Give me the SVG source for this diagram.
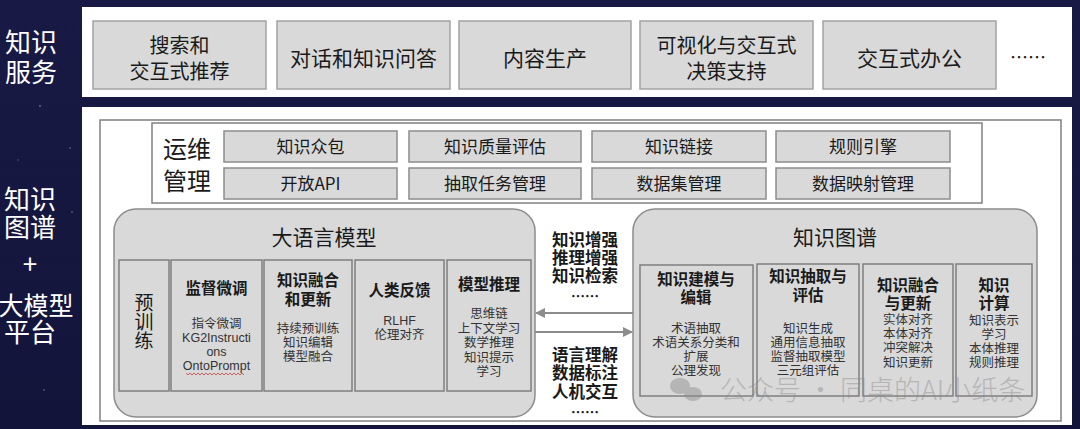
<svg xmlns="http://www.w3.org/2000/svg" width="1080" height="429" viewBox="0 0 1080 429">
<defs>
<style>
text{font-family:"Noto Sans CJK SC","Noto Sans",sans-serif;fill:#1a1a1a;text-anchor:middle}
.side{fill:#ffffff;font-size:26px}
.svc{fill:#d9d9d9;stroke:#a3a3a3;stroke-width:1.5}
.svct{font-size:20px}
.ops{fill:#d9d9d9;stroke:#8c8c8c;stroke-width:1.5}
.opst{font-size:17px}
.grp{fill:#d9d9d9;stroke:#8c8c8c;stroke-width:1.5}
.col{fill:#d9d9d9;stroke:#7f7f7f;stroke-width:1.5}
.h{font-weight:700;font-size:15.5px}
.s{font-size:12.5px;fill:#333333}
.mid{font-weight:700;font-size:16.5px}
.title{font-size:21px}
.conn{stroke:#8c8c8c;stroke-width:2;fill:none}
.star{fill:#ffffff;opacity:0.25}
</style>
<linearGradient id="bg" x1="0" y1="0" x2="0" y2="1">
<stop offset="0" stop-color="#181a45"/>
<stop offset="1" stop-color="#13143a"/>
</linearGradient>
<marker id="ah" viewBox="0 0 10 10" refX="9" refY="5" markerWidth="10" markerHeight="10" markerUnits="userSpaceOnUse" orient="auto-start-reverse">
<path d="M0,0 L10,5 L0,10 z" fill="#8c8c8c"/>
</marker>
</defs>

<rect x="0" y="0" width="1080" height="429" fill="url(#bg)"/>
<circle class="star" cx="40" cy="106" r="1.2"/>
<circle class="star" cx="70" cy="148" r="1"/>
<circle class="star" cx="44" cy="390" r="1"/>
<circle class="star" cx="18" cy="160" r="0.8"/>
<circle class="star" cx="72" cy="212" r="1"/>

<g id="side-labels">
<text class="side"><tspan x="31" y="52">知识</tspan><tspan x="31" y="82">服务</tspan></text>
<text class="side"><tspan x="30" y="209">知识</tspan><tspan x="30" y="237">图谱</tspan><tspan x="30" y="274">+</tspan><tspan x="36" y="315" style="font-size:25px">大模型</tspan><tspan x="30" y="342">平台</tspan></text>
</g>

<g id="service-panel">
<rect x="82" y="7" width="990" height="90" fill="#ffffff"/>
<g id="svc1"><rect class="svc" x="93" y="21" width="173" height="68"/><text class="svct"><tspan x="179.5" y="53">搜索和</tspan><tspan x="179.5" y="79">交互式推荐</tspan></text></g>
<g id="svc2"><rect class="svc" x="277" y="21" width="173" height="68"/><text class="svct" x="363.5" y="66" style="font-size:21px">对话和知识问答</text></g>
<g id="svc3"><rect class="svc" x="459" y="21" width="172" height="68"/><text class="svct" x="545" y="66" style="font-size:21px">内容生产</text></g>
<g id="svc4"><rect class="svc" x="640" y="21" width="173" height="68"/><text class="svct"><tspan x="726.5" y="53">可视化与交互式</tspan><tspan x="726.5" y="79">决策支持</tspan></text></g>
<g id="svc5"><rect class="svc" x="823" y="21" width="173" height="68"/><text class="svct" x="909.5" y="66" style="font-size:21px">交互式办公</text></g>
<text x="1028" y="64" style="font-size:18px">……</text>
</g>

<g id="platform-panel">
<rect x="82" y="107" width="990" height="318" fill="#ffffff"/>
<rect x="100" y="120" width="961" height="301" fill="none" stroke="#808080" stroke-width="1.5"/>
</g>

<g id="ops">
<rect x="152" y="123" width="830" height="80" fill="#ffffff" stroke="#808080" stroke-width="1.5"/>
<text style="font-size:24px"><tspan x="187" y="158">运维</tspan><tspan x="187" y="190">管理</tspan></text>
<g id="ops1"><rect class="ops" x="224" y="131" width="173" height="31"/><text class="opst" x="310.5" y="153">知识众包</text></g>
<g id="ops2"><rect class="ops" x="409" y="131" width="172" height="31"/><text class="opst" x="495" y="153">知识质量评估</text></g>
<g id="ops3"><rect class="ops" x="592" y="131" width="174" height="31"/><text class="opst" x="679" y="153">知识链接</text></g>
<g id="ops4"><rect class="ops" x="776" y="131" width="174" height="31"/><text class="opst" x="863" y="153">规则引擎</text></g>
<g id="ops5"><rect class="ops" x="224" y="168" width="173" height="31"/><text class="opst" x="310.5" y="190">开放API</text></g>
<g id="ops6"><rect class="ops" x="409" y="168" width="172" height="31"/><text class="opst" x="495" y="190">抽取任务管理</text></g>
<g id="ops7"><rect class="ops" x="592" y="168" width="174" height="31"/><text class="opst" x="679" y="190">数据集管理</text></g>
<g id="ops8"><rect class="ops" x="776" y="168" width="174" height="31"/><text class="opst" x="863" y="190">数据映射管理</text></g>
</g>

<g id="llm">
<rect class="grp" x="114" y="209" width="421" height="208" rx="22"/>
<text class="title" x="324" y="245">大语言模型</text>
<g id="llm-pretrain"><rect class="col" x="119" y="260" width="50" height="131"/>
<text x="144" y="293" writing-mode="vertical-rl" style="font-size:19px;text-anchor:start">预训练</text></g>
<g id="llm-sft"><rect class="col" x="171" y="260" width="91" height="131"/>
<text class="h" x="216.5" y="294">监督微调</text>
<text class="s"><tspan x="216.5" y="328">指令微调</tspan><tspan x="216.5" y="342" style="font-family:'Liberation Sans',sans-serif">KG2Instructi</tspan><tspan x="216.5" y="356" style="font-family:'Liberation Sans',sans-serif">ons</tspan><tspan x="216.5" y="370" style="font-family:'Liberation Sans',sans-serif">OntoPrompt</tspan></text>
<path d="M186,373 l2,2 l2,-2 l2,2 l2,-2 l2,2 l2,-2 l2,2 l2,-2 l2,2 l2,-2 l2,2 l2,-2 l2,2 l2,-2 l2,2 l2,-2 l2,2 l2,-2 l2,2 l2,-2 l2,2 l2,-2 l2,2 l2,-2 l2,2 l2,-2 l2,2 l2,-2 l2,2" fill="none" stroke="#d04040" stroke-width="0.8"/>
</g>
<g id="llm-fusion"><rect class="col" x="264" y="260" width="88" height="131"/>
<text class="h"><tspan x="308" y="286">知识融合</tspan><tspan x="308" y="305">和更新</tspan></text>
<text class="s"><tspan x="308" y="333">持续预训练</tspan><tspan x="308" y="347">知识编辑</tspan><tspan x="308" y="361">模型融合</tspan></text>
</g>
<g id="llm-rlhf"><rect class="col" x="355" y="260" width="89" height="131"/>
<text class="h" x="399.5" y="296">人类反馈</text>
<text class="s"><tspan x="399.5" y="325" style="font-family:'Liberation Sans','Noto Sans CJK SC',sans-serif">RLHF</tspan><tspan x="399.5" y="339">伦理对齐</tspan></text>
</g>
<g id="llm-infer"><rect class="col" x="447" y="260" width="84" height="131"/>
<text class="h" x="489" y="290">模型推理</text>
<text class="s"><tspan x="489" y="318">思维链</tspan><tspan x="489" y="333">上下文学习</tspan><tspan x="489" y="347">数学推理</tspan><tspan x="489" y="362">知识提示</tspan><tspan x="489" y="376">学习</tspan></text>
</g>
</g>

<g id="kg">
<rect class="grp" x="633" y="209" width="404" height="208" rx="22"/>
<text class="title" x="835" y="245">知识图谱</text>
<g id="kg-model"><rect class="col" x="640" y="265" width="113" height="131"/>
<text class="h"><tspan x="696" y="285">知识建模与</tspan><tspan x="696" y="303">编辑</tspan></text>
<text class="s"><tspan x="696" y="333">术语抽取</tspan><tspan x="696" y="347">术语关系分类和</tspan><tspan x="696" y="361">扩展</tspan><tspan x="696" y="375">公理发现</tspan></text>
</g>
<g id="kg-extract"><rect class="col" x="757" y="264" width="102" height="132"/>
<text class="h"><tspan x="808" y="282">知识抽取与</tspan><tspan x="808" y="301">评估</tspan></text>
<text class="s"><tspan x="808" y="333">知识生成</tspan><tspan x="808" y="347">通用信息抽取</tspan><tspan x="808" y="361">监督抽取模型</tspan><tspan x="808" y="375">三元组评估</tspan></text>
</g>
<g id="kg-fusion"><rect class="col" x="863" y="264" width="90" height="132"/>
<text class="h"><tspan x="908" y="291">知识融合</tspan><tspan x="908" y="309">与更新</tspan></text>
<text class="s"><tspan x="908" y="324">实体对齐</tspan><tspan x="908" y="338">本体对齐</tspan><tspan x="908" y="352">冲突解决</tspan><tspan x="908" y="367">知识更新</tspan></text>
</g>
<g id="kg-compute"><rect class="col" x="956" y="264" width="76" height="132"/>
<text class="h"><tspan x="994" y="291">知识</tspan><tspan x="994" y="309">计算</tspan></text>
<text class="s"><tspan x="994" y="325">知识表示</tspan><tspan x="994" y="339">学习</tspan><tspan x="994" y="353">本体推理</tspan><tspan x="994" y="367">规则推理</tspan></text>
</g>
</g>

<g id="connectors">
<line class="conn" x1="633" y1="313" x2="536" y2="313" marker-end="url(#ah)"/>
<line class="conn" x1="535" y1="332" x2="632" y2="332" marker-end="url(#ah)"/>
</g>

<g id="connector-labels">
<text class="mid"><tspan x="585" y="246">知识增强</tspan><tspan x="585" y="264">推理增强</tspan><tspan x="585" y="282">知识检索</tspan><tspan x="585" y="301" style="font-size:14px">……</tspan></text>
<text class="mid"><tspan x="585" y="361">语言理解</tspan><tspan x="585" y="379">数据标注</tspan><tspan x="585" y="398">人机交互</tspan><tspan x="585" y="417" style="font-size:14px">……</tspan></text>
</g>

<g id="watermark" opacity="0.45">
<ellipse cx="680" cy="386" rx="10" ry="8" fill="#8a8a8a"/>
<ellipse cx="693" cy="394" rx="9" ry="7" fill="#8a8a8a"/>
<text x="720" y="400" style="font-size:27px;fill:#8a8a8a;text-anchor:start;font-weight:300">公众号 · 同桌的AI小纸条</text>
</g>
</svg>
